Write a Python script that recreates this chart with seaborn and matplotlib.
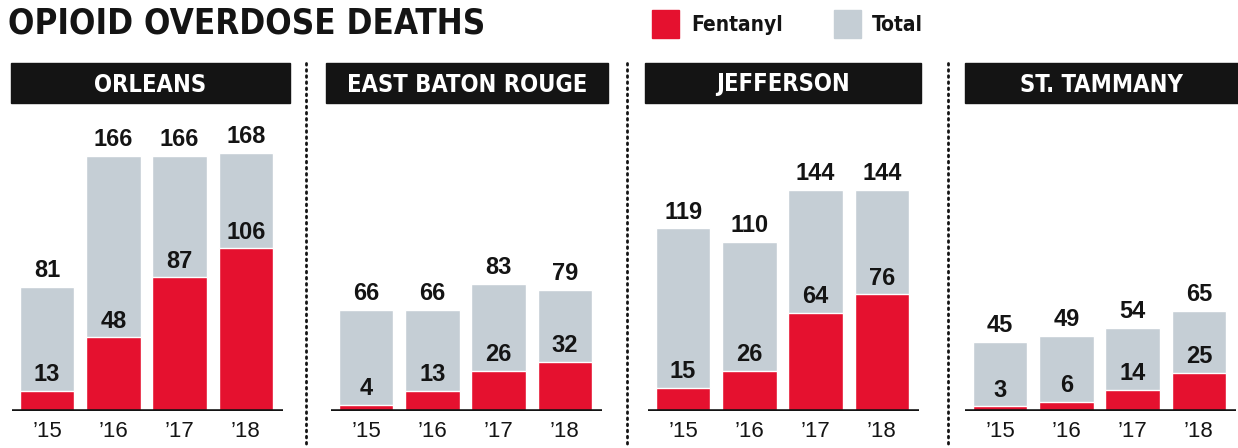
import matplotlib
matplotlib.use("Agg")
import matplotlib.pyplot as plt
from matplotlib.patches import Rectangle
from matplotlib.lines import Line2D
import seaborn as sns

sns.set_theme(style="white")
plt.rcParams["font.family"] = ["Liberation Sans", "DejaVu Sans"]

# Opioid overdose deaths by parish, 2015-2018
counties = ["ORLEANS", "EAST BATON ROUGE", "JEFFERSON", "ST. TAMMANY"]
years = ["\u201915", "\u201916", "\u201917", "\u201918"]
total_orleans = [81, 166, 166, 168]
fentanyl_orleans = [13, 48, 87, 106]
total_ebr = [66, 66, 83, 79]
fentanyl_ebr = [4, 13, 26, 32]
total_jefferson = [119, 110, 144, 144]
fentanyl_jefferson = [15, 26, 64, 76]
total_sttammany = [45, 49, 54, 65]
fentanyl_sttammany = [3, 6, 14, 25]

totals = [total_orleans, total_ebr, total_jefferson, total_sttammany]
fentanyls = [fentanyl_orleans, fentanyl_ebr, fentanyl_jefferson, fentanyl_sttammany]

RED = "#e5112f"
GRAY = "#c5ced5"
INK = "#141414"
COND = dict(family="DejaVu Sans", fontstretch="condensed", fontweight="bold")

W, H = 1238, 448
fig = plt.figure(figsize=(W / 100, H / 100), dpi=100)
fig.patch.set_facecolor("white")


def fx(px):
    return px / W


def fy(py):
    return 1 - py / H


panel_left = [12, 331, 648, 965]
panel_w = 271
base_y, top_y = 411, 130
header = [(11, 290), (326, 608), (645, 921), (965, 1238)]

for i, name in enumerate(counties):
    ax = fig.add_axes([fx(panel_left[i]), fy(base_y), fx(panel_w), (base_y - top_y) / H])
    sns.barplot(x=years, y=totals[i], color=GRAY, saturation=1, width=0.82, ax=ax)
    sns.barplot(x=years, y=fentanyls[i], color=RED, saturation=1, width=0.82, ax=ax)
    ax.set_xlim(-0.53, 3.56)
    ax.set_ylim(0, 183)
    for s in ax.spines.values():
        s.set_visible(False)
    ax.axhline(0, color=INK, lw=2.6, zorder=5)
    ax.set_yticks([])
    ax.set_ylabel("")
    ax.tick_params(axis="x", length=0, pad=7)
    for lbl in ax.get_xticklabels():
        lbl.set_fontsize(16)
        lbl.set_color(INK)
    for j in range(len(years)):
        for v in (totals[i][j], fentanyls[i][j]):
            ax.annotate(str(v), (j, v), xytext=(0, 7), textcoords="offset points",
                        ha="center", va="baseline", fontsize=17,
                        fontweight="bold", color=INK)
    # header bar with county name
    x0, x1 = header[i]
    fig.patches.append(Rectangle((fx(x0), fy(103)), fx(x1 - x0), 40 / H,
                                 transform=fig.transFigure, color=INK))
    fig.text(fx((x0 + x1) / 2), fy(84.5), name, ha="center", va="center",
             color="white", fontsize=17, **COND)

# dotted separators between panels
for sx in (306, 627, 948):
    fig.add_artist(Line2D([fx(sx), fx(sx)], [fy(63), fy(448)], transform=fig.transFigure,
                          color=INK, lw=2, linestyle=(0, (0.6, 1.6)),
                          solid_capstyle="round", dash_capstyle="round"))

# headline
fig.text(fx(8), fy(23), "OPIOID OVERDOSE DEATHS", ha="left", va="center",
         fontsize=25, color=INK, **COND)

# legend
for (lx, tx, label, col) in [(652, 691, "Fentanyl", RED), (834, 872, "Total", GRAY)]:
    fig.patches.append(Rectangle((fx(lx), fy(38)), fx(27), 28 / H,
                                 transform=fig.transFigure, color=col))
    fig.text(fx(tx), fy(25), label, ha="left", va="center", fontsize=15,
             color=INK, **COND)

fig.savefig("out.png", dpi=100)
